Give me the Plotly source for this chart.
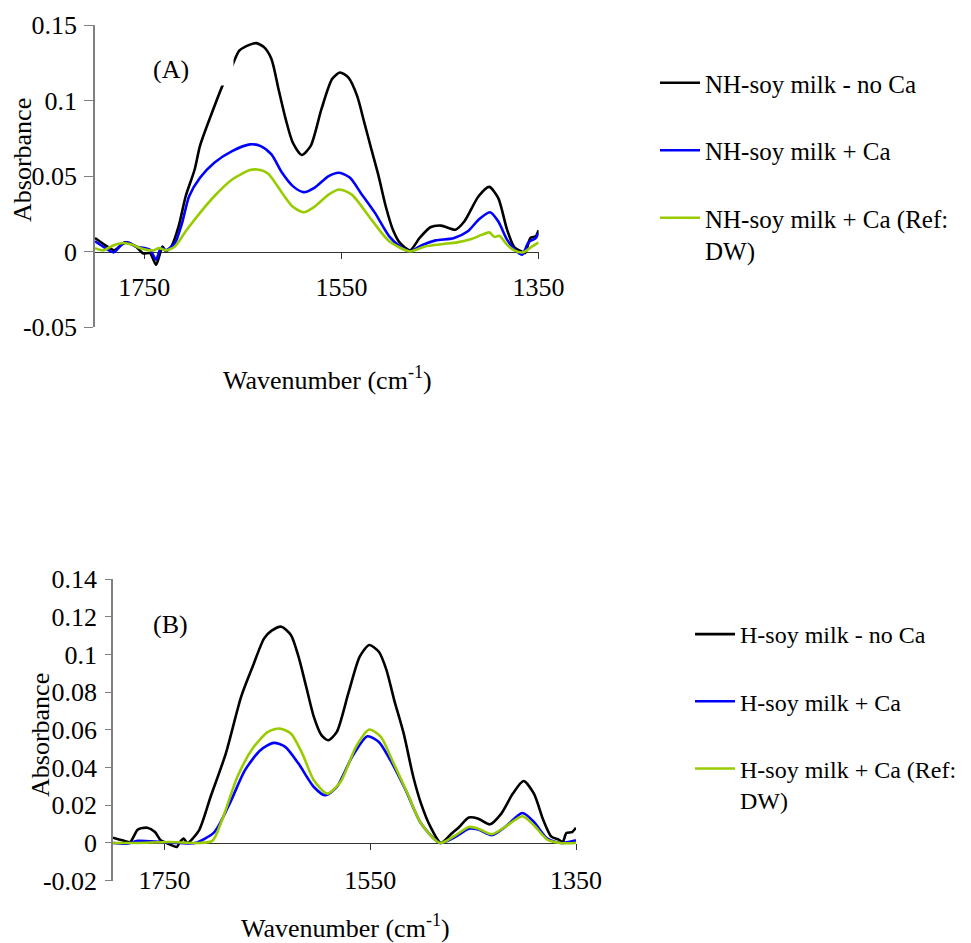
import plotly.graph_objects as go

W, H = 963, 935   # page body has an 8px margin inside the 971x943 window
OFF = 8

# ---------------- Panel A data (NH-soy milk) ----------------
a_noca_wn = [1800, 1787.7, 1780.4, 1769.6, 1758.7, 1751.4, 1744.2, 1738.1, 1734, 1731.5, 1728, 1722.5,
             1715.2, 1708, 1698.9, 1693.5, 1682.6, 1670, 1661.6, 1653.6, 1642.8, 1636.3, 1628.3, 1621,
             1613.8, 1606.5, 1599.3, 1590.2, 1581.2, 1570.3, 1559.5, 1551.5, 1543.1, 1534.1, 1526.8,
             1519.6, 1512.3, 1505.1, 1497.8, 1490.6, 1480.5, 1470.7, 1459.8, 1448.9, 1434.4, 1425.4,
             1410.9, 1400.1, 1391, 1382, 1374.7, 1367.5, 1363.8, 1358.3, 1352.9, 1350]
a_noca_abs = [0.0091, 0.0035, 0.001, 0.0062, 0.0035, -0.001, -0.001, -0.0086, -0.001, 0.0035, 0.0002, 0.0035,
              0.0168, 0.0367, 0.0544, 0.070, 0.0898, 0.1109, 0.1219, 0.133, 0.137, 0.138, 0.1352, 0.1275,
              0.1075, 0.0876, 0.0721, 0.064, 0.070, 0.0943, 0.1142, 0.1186, 0.1153, 0.1031, 0.0854,
              0.0677, 0.050, 0.0301, 0.0146, 0.0058, 0.0009, 0.0091, 0.0162, 0.0173, 0.0146, 0.020,
              0.0367, 0.0429, 0.0356, 0.0146, 0.0031, 0.0002, -0.0009, 0.0091, 0.0102, 0.0142]

a_ca_wn = [1800, 1789.5, 1781.2, 1773.1, 1767.6, 1758.7, 1744.2, 1738.1, 1733.2, 1728, 1718.9, 1711.7,
           1704.5, 1693.5, 1679, 1660.9, 1642.8, 1631.9, 1621, 1610.2, 1599.3, 1588.4, 1577.5, 1563,
           1552.2, 1541.3, 1530.4, 1516, 1501.5, 1490.6, 1480.5, 1468.9, 1454.4, 1436.3, 1421.8, 1410.9,
           1399.3, 1391, 1382, 1374.7, 1366.8, 1360.2, 1352.9, 1350]
a_ca_abs = [0.0069, 0.0024, -0.0004, 0.0046, 0.0062, 0.0035, 0.0013, -0.0053, 0.0024, 0.0009, 0.0058, 0.019,
            0.0367, 0.0489, 0.0589, 0.0666, 0.0710, 0.0699, 0.0644, 0.0522, 0.0434, 0.0394, 0.0423, 0.050,
            0.0522, 0.0489, 0.0389, 0.0257, 0.0102, 0.0035, 0.0002, 0.0042, 0.0075, 0.0089, 0.0135, 0.0212,
            0.0261, 0.0201, 0.008, 0.0018, -0.002, 0.0062, 0.0091, 0.0124]

a_dw_wn = [1800, 1791.3, 1782.2, 1771.4, 1762.3, 1751.4, 1740.5, 1735.1, 1728, 1718.9, 1708, 1693.5,
           1679, 1660.9, 1642.8, 1635.5, 1624.6, 1610.2, 1599.3, 1588.4, 1577.5, 1563, 1552.2, 1539.5,
           1519.6, 1501.5, 1480.5, 1465.3, 1447.2, 1432.6, 1418.1, 1407.2, 1400.1, 1394.6, 1389.9, 1382,
           1374.7, 1365.7, 1356.6, 1350]
a_dw_abs = [0.0024, 0.0009, 0.004, 0.0058, 0.0046, 0.0018, 0.0009, 0.0024, 0.0009, 0.0035, 0.0135, 0.0257,
            0.0367, 0.0478, 0.054, 0.0544, 0.0518, 0.0389, 0.0297, 0.0261, 0.0297, 0.0378, 0.0412, 0.0378,
            0.0212, 0.0069, 0.0002, 0.0035, 0.0051, 0.0062, 0.0084, 0.0113, 0.0128, 0.0097, 0.0106, 0.0046,
            0.0009, -0.0004, 0.0035, 0.0062]

# ---------------- Panel B data (H-soy milk) ----------------
b_noca_wn = [1800, 1790.8, 1783.4, 1775.9, 1766.7, 1759.2, 1753.6, 1746.2, 1738, 1735, 1731.3, 1727.6,
             1716.4, 1705.2, 1690.4, 1675.5, 1664.3, 1653.1, 1645.8, 1636.4, 1627.1, 1619.7, 1612.2,
             1604.8, 1597.4, 1590.7, 1582.5, 1571.3, 1560.2, 1550.9, 1541.6, 1534.2, 1526.7, 1517.5,
             1508.1, 1500.6, 1491.4, 1481.3, 1470.9, 1463.5, 1454.2, 1444.9, 1433.7, 1422.6, 1411.4,
             1401, 1390.9, 1381.7, 1374.2, 1366.8, 1363, 1359.3, 1353.8, 1350]
b_noca_abs = [0.0028, 0.0014, 0.0005, 0.0071, 0.0081, 0.0058, 0.0014, -0.0004, -0.0021, 0.0005, 0.0023, 0.0,
              0.0067, 0.0244, 0.0474, 0.0775, 0.0935, 0.1085, 0.1126, 0.1147, 0.1103, 0.0988, 0.0828,
              0.0669, 0.0572, 0.0545, 0.0589, 0.0793, 0.0988, 0.105, 0.1014, 0.0917, 0.0758, 0.0581,
              0.035, 0.0209, 0.0085, 0.0, 0.005, 0.0085, 0.0135, 0.0129, 0.0099, 0.0156, 0.0262,
              0.0329, 0.0262, 0.012, 0.0035, 0.0018, 0.0005, 0.0053, 0.0058, 0.0081]

b_ca_wn = [1800, 1787.1, 1775.9, 1753.6, 1735, 1720.1, 1701.5, 1686.6, 1671.7, 1656.8, 1643.8, 1632.6,
           1619.7, 1604.8, 1593.6, 1582.5, 1567.6, 1552.7, 1541.6, 1530.4, 1515.5, 1500.6, 1482, 1467.2,
           1454.2, 1444.9, 1431.9, 1418.9, 1402.1, 1390.9, 1377.9, 1364.9, 1350]
b_ca_abs = [0.0, -0.0004, 0.0011, 0.0005, 0.0, 0.0, 0.0058, 0.0209, 0.0386, 0.0492, 0.0531, 0.051,
            0.0421, 0.0297, 0.0253, 0.0297, 0.0457, 0.0566, 0.0536, 0.0439, 0.028, 0.0103, 0.0, 0.0032,
            0.0076, 0.0071, 0.0041, 0.0085, 0.0159, 0.0112, 0.0023, 0.0, 0.0014]

b_dw_wn = [1800, 1775.9, 1746.2, 1716.4, 1703.4, 1694.1, 1679.2, 1664.3, 1649.4, 1638.3, 1627.1, 1616,
           1604.8, 1591.8, 1578.8, 1563.9, 1550.9, 1539.7, 1528.6, 1513.7, 1500.6, 1482, 1467.2, 1454.2,
           1444.9, 1431.9, 1418.9, 1402.1, 1390.9, 1377.9, 1364.9, 1350]
b_dw_abs = [0.0, 0.0, 0.0005, 0.0, 0.0011, 0.012, 0.035, 0.0501, 0.0589, 0.0607, 0.0581, 0.0474,
            0.0333, 0.0262, 0.0324, 0.051, 0.0602, 0.0563, 0.0439, 0.0262, 0.0103, 0.0, 0.0041, 0.0085,
            0.0076, 0.0046, 0.0085, 0.0142, 0.0094, 0.0018, 0.0, 0.0]

# ---------------- labels / ticks ----------------
names_a = ["NH-soy milk - no Ca", "NH-soy milk + Ca", "NH-soy milk + Ca (Ref:<br>DW)"]
names_b = ["H-soy milk - no Ca", "H-soy milk + Ca", "H-soy milk + Ca (Ref:<br>DW)"]
colors = ["#000000", "#0000FF", "#99CC00"]

x_tickvals = [1750, 1550, 1350]
x_ticktext = ["1750", "1550", "1350"]
ya_tickvals = [-0.05, 0, 0.05, 0.1, 0.15]
ya_ticktext = ["-0.05", "0", "0.05", "0.1", "0.15"]
yb_tickvals = [-0.02, 0, 0.02, 0.04, 0.06, 0.08, 0.1, 0.12, 0.14]
yb_ticktext = ["-0.02", "0", "0.02", "0.04", "0.06", "0.08", "0.1", "0.12", "0.14"]

FONT = "Liberation Serif"
FS = 26

def px_x(p):
    return (p - OFF) / W

def px_y(p):
    return 1 - (p - OFF) / H

fig = go.Figure()

for wn, ab, nm, c, g in zip([a_noca_wn, a_ca_wn, a_dw_wn], [a_noca_abs, a_ca_abs, a_dw_abs],
                            names_a, colors, ["a1", "a2", "a3"]):
    fig.add_trace(go.Scatter(x=wn, y=ab, name=nm, mode="lines", legendgroup=g,
                             line=dict(color=c, width=2.6, shape="spline", smoothing=0.7),
                             xaxis="x", yaxis="y", legend="legend"))

for wn, ab, nm, c, g in zip([b_noca_wn, b_ca_wn, b_dw_wn], [b_noca_abs, b_ca_abs, b_dw_abs],
                            names_b, colors, ["b1", "b2", "b3"]):
    fig.add_trace(go.Scatter(x=wn, y=ab, name=nm, mode="lines", legendgroup=g,
                             line=dict(color=c, width=2.6, shape="spline", smoothing=0.7),
                             xaxis="x2", yaxis="y2", legend="legend2"))

axis_font = dict(family=FONT, size=FS, color="black")

fig.update_layout(
    width=W, height=H,
    margin=dict(l=0, r=0, t=0, b=0, autoexpand=False),
    paper_bgcolor="white", plot_bgcolor="white",
    font=dict(family=FONT, size=FS, color="black"),
    xaxis=dict(domain=[px_x(95), px_x(538.6)], range=[1800, 1350], anchor="free",
               position=px_y(252), showline=True, linecolor="#333333", linewidth=1.2,
               ticks="outside", ticklen=6, tickcolor="#333333", tickvals=x_tickvals,
               ticktext=x_ticktext, tickfont=axis_font, showgrid=False, zeroline=False,
               ticklabelstandoff=6, layer="below traces"),
    yaxis=dict(domain=[px_y(327.3), px_y(25)], range=[-0.05, 0.15], anchor="x",
               showline=True, linecolor="#808080", linewidth=1.5, ticks="outside", ticklen=9,
               tickcolor="#808080", tickvals=ya_tickvals, ticktext=ya_ticktext,
               tickfont=axis_font, showgrid=False, zeroline=False, ticklabelstandoff=2),
    xaxis2=dict(domain=[px_x(113), px_x(576)], range=[1800, 1350], anchor="free",
                position=px_y(842.7), showline=True, linecolor="#333333", linewidth=1.2,
                ticks="outside", ticklen=6, tickcolor="#333333", tickvals=x_tickvals,
                ticktext=x_ticktext, tickfont=axis_font, showgrid=False, zeroline=False,
                ticklabelstandoff=8, layer="below traces"),
    yaxis2=dict(domain=[px_y(880.7), px_y(579)], range=[-0.02, 0.14], anchor="x2",
                showline=True, linecolor="#808080", linewidth=1.5, ticks="outside", ticklen=6,
                tickcolor="#808080", tickvals=yb_tickvals, ticktext=yb_ticktext,
                tickfont=axis_font, showgrid=False, zeroline=False, ticklabelstandoff=3),
    legend=dict(x=px_x(655), y=px_y(60), xanchor="left", yanchor="top", bgcolor="rgba(0,0,0,0)",
                font=dict(family=FONT, size=25, color="black"), tracegroupgap=32, valign="top",
                itemwidth=40),
    legend2=dict(x=px_x(690), y=px_y(612), xanchor="left", yanchor="top", bgcolor="rgba(0,0,0,0)",
                 font=dict(family=FONT, size=24, color="black"), tracegroupgap=33, valign="top",
                 itemwidth=40),
    showlegend=True,
)

annotations = [
    dict(text="(A)", x=px_x(150), y=px_y(69), xref="paper", yref="paper", xanchor="left",
         yanchor="middle", showarrow=False, align="left", width=78, height=28, borderpad=2,
         bgcolor="white", font=dict(family=FONT, size=FS, color="black")),
    dict(text="(B)", x=px_x(150), y=px_y(624), xref="paper", yref="paper", xanchor="left",
         yanchor="middle", showarrow=False, align="left", width=78, height=28, borderpad=2,
         bgcolor="white", font=dict(family=FONT, size=FS, color="black")),
    dict(text="Absorbance", x=px_x(22), y=px_y(160), xref="paper", yref="paper", textangle=-90,
         xanchor="center", yanchor="middle", showarrow=False,
         font=dict(family=FONT, size=FS, color="black")),
    dict(text="Absorbance", x=px_x(40), y=px_y(735), xref="paper", yref="paper", textangle=-90,
         xanchor="center", yanchor="middle", showarrow=False,
         font=dict(family=FONT, size=FS, color="black")),
    dict(text="Wavenumber (cm<sup>-1</sup>)", x=px_x(327), y=px_y(378), xref="paper", yref="paper",
         xanchor="center", yanchor="middle", showarrow=False,
         font=dict(family=FONT, size=FS, color="black")),
    dict(text="Wavenumber (cm<sup>-1</sup>)", x=px_x(345), y=px_y(926), xref="paper", yref="paper",
         xanchor="center", yanchor="middle", showarrow=False,
         font=dict(family=FONT, size=FS, color="black")),
]
fig.update_layout(annotations=annotations)

fig.write_html("out.html")
